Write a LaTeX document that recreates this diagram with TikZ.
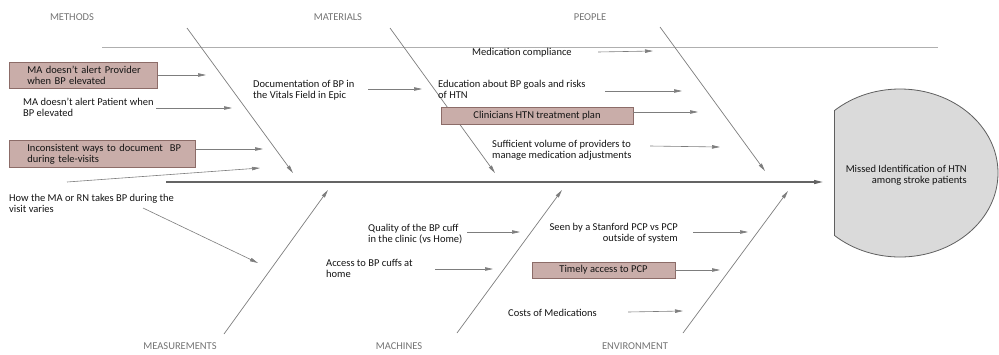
\documentclass[tikz,border=0pt]{standalone}
\usepackage{fontspec}
\setmainfont{Carlito}
\usetikzlibrary{arrows.meta}
\definecolor{boxfill}{RGB}{201,173,169}
\definecolor{boxdraw}{RGB}{140,108,104}
\definecolor{txt}{RGB}{20,20,20}
\definecolor{catgray}{RGB}{115,115,115}
\definecolor{arrgray}{RGB}{125,125,125}
\definecolor{spinegray}{RGB}{100,100,100}
\definecolor{topline}{RGB}{175,175,175}
\definecolor{headfill}{RGB}{218,218,218}
\definecolor{headdraw}{RGB}{95,95,95}
\newcommand{\ind}{\hspace*{18pt}}
\begin{document}
\begin{tikzpicture}[x=1pt,y=-1pt,
  cause/.style={font=\fontsize{10.5}{11}\selectfont, text=txt, inner sep=0pt, align=left, anchor=north west},
  causebox/.style={draw=boxdraw, fill=boxfill, line width=0.7pt, font=\fontsize{10.5}{11}\selectfont, text=txt, inner ysep=0pt},
  cat/.style={font=\fontsize{10.5}{11}\selectfont, text=catgray, inner sep=0pt, anchor=base},
  sub/.style={draw=arrgray, line width=0.6pt, -{Triangle[length=8pt,width=3.5pt]}},
  bone/.style={draw=arrgray, line width=0.7pt, -{Triangle[length=8pt,width=3.5pt]}},
  spine/.style={draw=spinegray, line width=1.2pt, -{Triangle[length=9pt,width=4pt]}}
]
\useasboundingbox (0,0) rectangle (999,354);

% top line
\coordinate (tlA) at (102,47);
\coordinate (tlB) at (938,47);
\draw[topline, line width=0.8pt] (tlA) -- (tlB);

% head
\begin{scope}
  \clip (834,0) rectangle (1000,354);
  \draw[draw=headdraw, fill=headfill, line width=0.8pt] (900,173) ellipse [x radius=98, y radius=84];
\end{scope}
\coordinate (hA) at (834,111);
\coordinate (hB) at (834,235);
\draw[headdraw, line width=0.8pt] (hA) -- (hB);
\node[cause, anchor=north east, align=right] (head) at (967,165.5) {Missed Identification of HTN\\among stroke patients};

% spine
\coordinate (spA) at (166,182);
\coordinate (spB) at (823,182);
\draw[spine] (spA) -- (spB);

% categories
\node[cat] (methods) at (72,20.6) {METHODS};
\node[cat] (materials) at (338,20.6) {MATERIALS};
\node[cat] (people) at (590,20.6) {PEOPLE};
\node[cat] (measure) at (180,349.8) {MEASUREMENTS};
\node[cat] (machines) at (399,349.8) {MACHINES};
\node[cat] (environ) at (635,349.8) {ENVIRONMENT};

% bones
\coordinate (b1s) at (187,28);  \coordinate (b1e) at (293,173);
\coordinate (b2s) at (390,28);  \coordinate (b2e) at (495,173);
\coordinate (b3s) at (660,27);  \coordinate (b3e) at (765,171);
\coordinate (b4s) at (224,334); \coordinate (b4e) at (328,190);
\coordinate (b5s) at (457,333); \coordinate (b5e) at (562,190);
\coordinate (b6s) at (683,333); \coordinate (b6e) at (788,191);
\draw[bone] (b1s) -- (b1e);
\draw[bone] (b2s) -- (b2e);
\draw[bone] (b3s) -- (b3e);
\draw[bone] (b4s) -- (b4e);
\draw[bone] (b5s) -- (b5e);
\draw[bone] (b6s) -- (b6e);

% METHODS causes
\node[causebox, anchor=north west, text width=148pt, align=left, inner xsep=0pt, minimum height=26pt] (c1) at (9,62) {\ind MA doesn't alert Provider\\\ind when BP elevated};
\coordinate (c1e) at (206,75);
\draw[sub] (c1.east |- c1e) -- (c1e);

\node[cause] (c2) at (23,97.8) {MA doesn't alert Patient when\\BP elevated};
\coordinate (c2s) at (156,108); \coordinate (c2e) at (232,108);
\draw[sub] (c2s) -- (c2e);

\node[causebox, anchor=north west, text width=186pt, align=left, inner xsep=0pt, minimum height=27pt] (c3) at (9,140) {\ind Inconsistent ways to document\ \ BP\\\ind during tele-visits};
\coordinate (c3e) at (263,149);
\draw[sub] (c3.east |- c3e) -- (c3e);

\coordinate (c4s) at (67,182); \coordinate (c4e) at (260,168);
\draw[sub] (c4s) -- (c4e);

\node[cause] (c5) at (9,193.8) {How the MA or RN takes BP during the\\visit varies};
\coordinate (c5s) at (143,208); \coordinate (c5e) at (258,263);
\draw[sub] (c5s) -- (c5e);

% MATERIALS
\node[cause] (c6) at (253,79.8) {Documentation of BP in\\the Vitals Field in Epic};
\coordinate (c6s) at (368,89); \coordinate (c6e) at (422,89);
\draw[sub] (c6s) -- (c6e);

% PEOPLE
\node[cause] (c7) at (472,48.5) {Medication compliance};
\coordinate (c7s) at (598,52); \coordinate (c7e) at (653,51);
\draw[sub] (c7s) -- (c7e);

\node[cause] (c8) at (438,79.8) {Education about BP goals and risks\\of HTN};
\coordinate (c8s) at (605,91); \coordinate (c8e) at (682,91);
\draw[sub] (c8s) -- (c8e);

\node[causebox, inner xsep=0pt, minimum width=192pt, minimum height=17pt] (c9) at (537,115.5) {Clinicians HTN treatment plan};
\coordinate (c9e) at (698,112);
\draw[sub] (c9.east |- c9e) -- (c9e);

\node[cause] (c10) at (492,139.8) {Sufficient volume of providers to\\manage medication adjustments};
\coordinate (c10s) at (650,146); \coordinate (c10e) at (720,147);
\draw[sub] (c10s) -- (c10e);

% MACHINES
\node[cause] (c11) at (368,223.8) {Quality of the BP cuff\\in the clinic (vs Home)};
\coordinate (c11s) at (467,232); \coordinate (c11e) at (520,232);
\draw[sub] (c11s) -- (c11e);

\node[cause] (c12) at (326,258.8) {Access to BP cuffs at\\home};
\coordinate (c12s) at (435,269); \coordinate (c12e) at (493,269);
\draw[sub] (c12s) -- (c12e);

% ENVIRONMENT
\node[cause, anchor=north east, align=right] (c13) at (678,222.8) {Seen by a Stanford PCP vs PCP\\outside of system};
\coordinate (c13s) at (693,232); \coordinate (c13e) at (748,232);
\draw[sub] (c13s) -- (c13e);

\node[causebox, inner xsep=0pt, minimum width=143pt, minimum height=16pt] (c14) at (603.5,270) {Timely access to PCP};
\coordinate (c14e) at (720,270);
\draw[sub] (c14.east |- c14e) -- (c14e);

\node[cause] (c15) at (508,308.8) {Costs of Medications};
\coordinate (c15s) at (628,312); \coordinate (c15e) at (683,311);
\draw[sub] (c15s) -- (c15e);
\end{tikzpicture}
\end{document}
